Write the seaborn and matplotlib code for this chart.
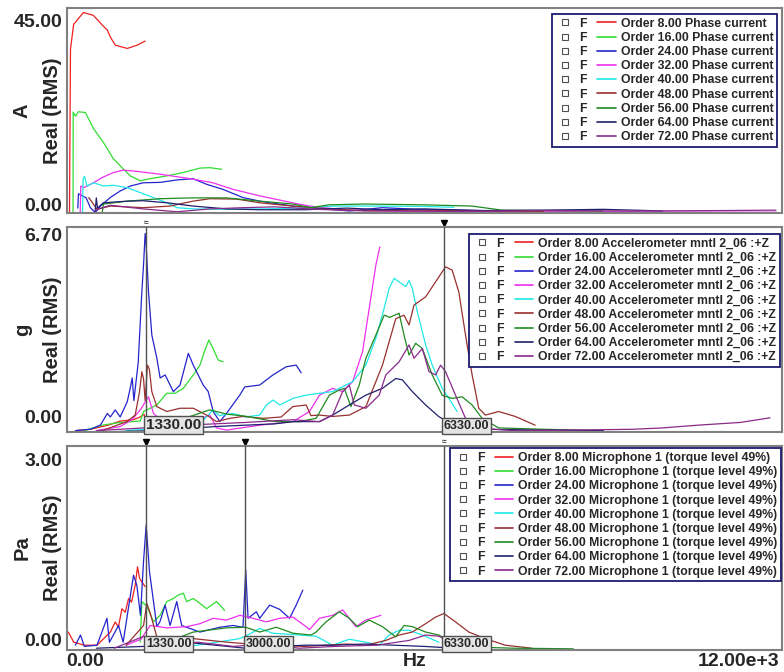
import numpy as np
import pandas as pd
import seaborn as sns
import matplotlib.pyplot as plt
from matplotlib.lines import Line2D

# order numbers and trace colours
orders = ['8.00', '16.00', '24.00', '32.00', '40.00', '48.00', '56.00', '64.00', '72.00']
colors = ['#ee2020', '#30dd30', '#2424cc', '#ee30ee', '#20e8e8',
          '#9a3030', '#208a20', '#20206e', '#8a2a8a']

# ---- panel 1: phase current (A) ----
cur_hz = [
    [50, 67, 120, 284, 451, 601, 685, 735, 818, 1019, 1186, 1319],
    [110, 112, 150, 200, 317, 456, 618, 785, 952, 1069, 1236, 1403, 1687, 1954, 2238, 2405, 2605],
    [190, 200, 330, 400, 484, 568, 735, 902, 1069, 1286, 1570, 1854, 2121, 2355, 2622, 2956,
     3240, 3791, 4075, 4743, 5300, 5900, 6500, 7200],
    [230, 240, 290, 450, 600, 785, 952, 1119, 1570, 2121, 2455, 2789, 3240, 3791, 4075, 4700,
     5500, 6500, 8000, 9500, 11000, 11900],
    [270, 278, 300, 345, 456, 618, 785, 1019, 1236, 1453, 1687, 1854, 2121, 2700, 3300, 3900,
     4500, 5200, 6000, 6500],
    [373, 512, 735, 1286, 1737, 2121, 2405, 2856, 3240, 3791, 4400, 5000, 6000, 7000, 8000],
    [600, 618, 1019, 1570, 2121, 2689, 3240, 3791, 4100, 4400, 5000, 6000, 6800, 7300, 9000],
    [480, 500, 520, 618, 1019, 1286, 1687, 2121, 2689, 3240, 4000, 4700, 5300, 6000, 7000,
     8000, 9000, 10000],
    [480, 735, 1286, 1854, 2405, 2956, 3500, 4200, 5000, 6500, 8000, 9500, 11000, 11900],
]
cur_val = [
    [-2, 38, 44, 46.9, 46.2, 43.8, 42.6, 40.9, 38.9, 38.1, 38.9, 39.9],
    [-2, 22.5, 21.5, 22.6, 22.4, 18.4, 15.1, 11.1, 8.6, 6.9, 5.7, 6.2, 6.9, 7.7, 8.8, 8.9, 8.5],
    [-1, 2.5, 1.5, -0.9, -2.1, -0.5, 1.6, 3.2, 4.4, 5.2, 5.3, 5.9, 6.2, 4.8, 3.6, 1.6,
     0.7, -0.5, -0.9, -1.7, -0.9, -1.3, -1.5, -1.7],
    [-2, 4.4, 4.0, 5.2, 6.5, 7.7, 8.3, 8.1, 7.3, 6.1, 5.2, 3.6, 2.0, 0.3, -0.5, -1.5,
     -1.7, -1.8, -1.9, -1.9, -2.0, -2.0],
    [-2, 6.1, 6.8, 4.4, 5.2, 4.4, 4.6, 4.0, 2.8, 1.6, 0.3, -0.9, -1.2, -1.3, -1.2, -1.0,
     -0.5, -0.5, -0.6, -0.8],
    [1.6, -1.3, -0.5, -0.9, -0.5, 0.7, 1.3, 1.2, 0.3, -0.5, -1.2, -1.6, -1.5, -1.7, -1.8],
    [-2, 0.0, 0.7, 1.3, 1.5, 1.5, 0.7, 0.0, -0.9, -0.2, 0.0, -0.2, -0.5, -1.5, -1.7],
    [-2, 1.5, -1.0, 0.3, 0.7, 0.8, 0.3, -0.5, -1.2, -1.4, -1.4, -1.0, -1.4, -1.2, -1.6,
     -1.5, -1.3, -1.7],
    [-1.5, -0.3, -1.2, -1.9, -1.2, -0.9, -0.7, -1.3, -1.7, -1.8, -1.6, -1.7, -1.6, -1.5],
]

# ---- panel 2: accelerometer (g) ----
acc_hz = [
    [150, 400, 700, 900, 1119, 1236, 1300, 1340],
    [300, 600, 900, 1236, 1292, 1515, 1682, 1821, 1960, 2126, 2238, 2321, 2388, 2460, 2543, 2627],
    [150, 400, 568, 685, 735, 818, 900, 1019, 1069, 1102, 1130, 1203, 1264, 1292, 1319, 1336,
     1375, 1431, 1515, 1570, 1654, 1792, 1904, 2043, 2126, 2293, 2377, 2460, 2572, 2683, 2906,
     2989, 3240, 3462, 3685, 3852, 3936],
    [500, 900, 1100, 1250, 1375, 1459, 1682, 2126, 2405, 2516, 2683, 3240, 3796, 4075, 4242,
     4464, 4631, 4798, 4965, 5077, 5188, 5255],
    [1000, 1300, 1600, 2000, 2300, 2460, 2560, 2794, 3000, 3240, 3351, 3462, 3580, 3796, 4019,
     4242, 4464, 4798, 5021, 5188, 5327, 5411, 5494, 5578, 5689, 5745, 5800, 5884, 6023, 6134,
     6301, 6413, 6551],
    [600, 1013, 1152, 1225, 1264, 1292, 1319, 1358, 1390, 1431, 1515, 1682, 1904, 2126, 2349,
     2516, 2739, 2961, 3300, 3600, 3796, 4019, 4100, 4242, 4464, 4743, 5021, 5299, 5522, 5661,
     5745, 5828, 6023, 6190, 6357, 6468, 6580, 6692, 6803, 6914, 7026, 7248, 7526, 7860],
    [1500, 2400, 2700, 3000, 3500, 3900, 4186, 4409, 4576, 4659, 4770, 4910, 5021, 5188, 5327,
     5420, 5578, 5661, 5745, 5856, 5967, 6134, 6301, 6468, 6635, 6803, 6970, 7248, 8000, 9000],
    [500, 1500, 2500, 3500, 3796, 4242, 4464, 4743, 5021, 5299, 5522, 5633, 5800, 6023, 6246,
     6500, 7000, 8000, 9000],
    [500, 1300, 2000, 3000, 3800, 4242, 4464, 4631, 4743, 4826, 5021, 5244, 5355, 5578, 5745,
     5828, 5967, 6080, 6190, 6274, 6357, 6524, 6692, 6858, 7500, 8500, 9500, 10000, 10588,
     11300, 11800],
]
acc_val = [
    [-0.5, -0.45, -0.3, -0.15, -0.1, 0.0, 0.1, -0.2],
    [-0.5, -0.3, -0.2, -0.15, 0.2, 0.44, 0.87, 0.87, 1.05, 1.54, 1.9, 2.45, 2.82, 2.5, 2.09, 2.02],
    [-0.5, -0.45, -0.3, 0.13, 0.0, 0.26, 0.0, 0.56, 1.06, 1.43, 0.6, 2.0, 4.6, 5.57, 6.72, 6.3,
     4.6, 3.0, 2.16, 1.43, 1.54, 0.93, 1.17, 2.33, 1.9, 1.17, 0.93, 0.2, -0.17, 0.13, 0.8,
     1.1, 1.17, 1.54, 1.84, 1.9, 1.62],
    [-0.5, -0.35, -0.1, 0.3, 0.74, 0.13, -0.3, -0.17, 0.07, -0.4, -0.48, -0.3, -0.17, 0.2, 0.8,
     1.05, 0.93, 1.29, 2.39, 3.98, 5.56, 6.23],
    [-0.5, -0.45, -0.3, -0.25, -0.1, 0.26, 0.05, 0.13, 0.0, 0.07, 0.44, 0.62, 0.44, 0.68, 0.8,
     0.87, 0.93, 1.29, 1.9, 2.88, 3.98, 4.71, 5.08, 4.95, 4.78, 5.0, 4.71, 3.85, 2.64, 1.9,
     1.05, 0.68, 0.2],
    [-0.5, -0.17, 0.07, 0.93, 1.66, 1.4, 0.6, 1.9, 1.75, 0.93, 0.38, 0.2, 0.32, 0.32, 0.07,
     -0.17, -0.05, 0.02, -0.05, 0.0, 0.38, 0.44, 0.05, 0.07, 0.02, 0.07, 0.38, 1.9, 3.6, 3.73,
     3.37, 4.1, 4.4, 4.95, 5.5, 5.38, 4.58, 3.0, 1.54, 0.32, 0.07, 0.2, 0.02, -0.3],
    [-0.4, 0.26, 0.1, 0.03, -0.17, -0.17, -0.05, 0.8, 0.99, 1.05, 0.38, 1.17, 2.15, 3.0, 3.73,
     3.65, 3.8, 3.0, 2.27, 2.7, 2.51, 1.54, 0.8, 0.68, 0.74, 0.44, -0.05, -0.4, -0.45, -0.5],
    [-0.55, -0.5, -0.35, -0.25, -0.17, -0.17, 0.07, 0.44, 0.8, 1.05, 1.41, 1.36, 0.93, 0.44,
     0.01, -0.3, -0.45, -0.48, -0.5],
    [-0.5, -0.4, -0.3, -0.2, -0.1, -0.17, 0.07, 0.93, 1.17, 0.44, 0.32, 0.8, 1.54, 2.02, 2.64,
     2.15, 2.51, 1.66, 1.54, 1.9, 1.66, 0.8, -0.05, -0.4, -0.5, -0.48, -0.45, -0.4, -0.3,
     -0.2, -0.03],
]

# ---- panel 3: microphone (Pa) ----
mic_hz = [
    [30, 122, 300, 512, 623, 735, 818, 870, 930, 985, 1041, 1090, 1152, 1191, 1225, 1270, 1319],
    [1236, 1264, 1347, 1459, 1570, 1682, 1792, 1876, 1960, 2015, 2126, 2238, 2349, 2516, 2627, 2650],
    [150, 234, 300, 512, 679, 720, 873, 950, 1124, 1180, 1240, 1292, 1336, 1392, 1459, 1515,
     1570, 1654, 1737, 1849, 1932, 2015, 2238, 2572, 2794, 2960, 3006, 3045, 3185, 3240, 3407,
     3574, 3741, 3852, 3963],
    [1000, 1250, 1403, 1682, 2015, 2238, 2460, 2683, 2906, 3128, 3351, 3574, 3796, 4019, 4075,
     4242, 4464, 4631, 4854, 5021, 5272],
    [1500, 2200, 2900, 3000, 3240, 3460, 3796, 3908, 4186, 4464, 4743, 5021, 5244, 5411, 5578,
     5745, 5967, 6246],
    [1000, 1292, 1347, 1400, 1515, 1737, 2126, 2700, 3300, 4000, 4700, 5021, 5355, 5578, 5800,
     6023, 6190, 6330, 6524, 6747, 7026, 7359, 7804],
    [1500, 2126, 2683, 3006, 3240, 3518, 3800, 4100, 4186, 4353, 4576, 4743, 4882, 5077, 5299,
     5522, 5661, 5800, 6023, 6246, 6468, 6803, 7500, 8500],
    [500, 1300, 2000, 2500, 3000, 3500, 4000, 4500, 5000, 5500, 6000, 6500, 7000],
    [800, 1300, 1700, 2200, 2800, 3300, 3900, 4500, 5200, 5745, 6023, 6246, 6450, 6800],
]
mic_val = [
    [0.12, -0.05, -0.1, -0.1, 0.01, 0.12, 0.29, 0.2, 0.51, 0.45, 0.68, 0.62, 0.9, 1.21, 1.02,
     0.95, 0.88],
    [-0.05, 0.63, 0.55, 0.29, 0.4, 0.63, 0.68, 0.74, 0.77, 0.63, 0.68, 0.6, 0.51, 0.63, 0.51, 0.48],
    [-0.1, 0.07, -0.12, -0.1, 0.35, -0.05, 0.23, -0.05, 1.07, 0.9, 0.4, 1.3, 1.91, 1.13, 0.63,
     0.21, 0.3, 0.57, 0.23, 0.63, 0.23, 0.2, 0.12, 0.2, 0.23, 0.2, 1.16, 0.35, 0.46, 0.35, 0.57,
     0.5, 0.35, 0.57, 0.82],
    [-0.1, 0.0, 0.23, 0.19, 0.21, 0.26, 0.35, 0.32, 0.4, 0.35, 0.29, 0.35, 0.37, 0.21, 0.16,
     0.35, 0.4, 0.49, 0.21, 0.32, 0.4],
    [-0.15, -0.1, 0.01, 0.05, 0.18, 0.1, 0.08, 0.07, 0.05, -0.1, 0.0, -0.05, -0.1, 0.07, 0.15,
     0.15, 0.07, -0.05],
    [-0.1, 0.23, 0.6, 0.45, 0.04, -0.1, 0.01, -0.05, -0.1, -0.12, -0.08, -0.1, -0.02, 0.07,
     0.12, 0.26, 0.37, 0.43, 0.29, 0.12, 0.01, -0.1, -0.15],
    [-0.12, 0.12, 0.19, 0.2, 0.12, 0.2, 0.1, 0.07, 0.12, 0.29, 0.46, 0.35, 0.21, 0.32, 0.21,
     0.04, 0.23, 0.21, 0.12, 0.07, -0.05, -0.13, -0.15, -0.16],
    [-0.15, -0.12, -0.05, -0.1, -0.15, -0.12, -0.1, -0.1, -0.08, -0.1, -0.12, -0.15, -0.17],
    [-0.15, 0.05, -0.1, -0.05, -0.12, -0.08, -0.15, -0.12, -0.1, -0.02, 0.07, 0.05, -0.05, -0.15],
]

sns.set_style('white')
plt.rcParams['font.family'] = ['Liberation Sans', 'DejaVu Sans']
plt.rcParams['font.weight'] = 'bold'

fig = plt.figure(figsize=(7.84, 6.72), dpi=100)

W, H = 784, 672
x0, x1 = 66.5, 782


def make_axes(top, bottom):
    return fig.add_axes([x0 / W, 1 - bottom / H, (x1 - x0) / W, (bottom - top) / H])


def long_df(hz_lists, val_lists):
    frames = []
    for o, hz, val in zip(orders, hz_lists, val_lists):
        frames.append(pd.DataFrame({'Hz': hz, 'val': val, 'order': o}))
    return pd.concat(frames, ignore_index=True)


def style_panel(ax, ymin, ymax, ntick, unit, top_label):
    ax.set_xlim(0, 12000)
    ax.set_ylim(ymin, ymax)
    for s in ax.spines.values():
        s.set_color('#808080')
        s.set_linewidth(1.5)
    top_val = float(top_label)
    ax.set_yticks([0, top_val])
    ax.set_yticklabels(['0.00', top_label])
    ax.set_yticks(np.linspace(0, top_val, ntick + 1), minor=True)
    ax.set_xticks([5000, 10000])
    ax.set_xticklabels([])
    ax.set_xticks(np.arange(1000, 12000, 1000), minor=True)
    ax.tick_params(axis='y', which='both', direction='in', length=5, width=0.8,
                   color='#505050', labelsize=14, pad=3)
    ax.tick_params(axis='x', which='major', direction='in', length=9, width=0.8, color='#505050')
    ax.tick_params(axis='x', which='minor', direction='in', length=4, width=0.8, color='#505050')
    ax.set_xlabel('')
    ax.set_ylabel(unit + '\nReal (RMS)', fontsize=14.5, fontweight='bold', linespacing=1.75)
    ax.yaxis.set_label_coords(-0.006, 0.5)


def add_legend(ax, text, anchor):
    boxes = [Line2D([], [], ls='none', marker='s', ms=4, mfc='white', mec='#505050', mew=0.8)
             for _ in orders]
    lines = [Line2D([], [], color=c, lw=1.2) for c in colors]
    labels = ['F'] * len(orders) + ['Order %s %s' % (o, text) for o in orders]
    leg = ax.legend(boxes + lines, labels, ncol=2, loc='upper right', bbox_to_anchor=anchor,
                    borderaxespad=0, prop={'weight': 'bold', 'size': 8.8},
                    handlelength=1.5, handletextpad=0.4, columnspacing=0.9,
                    labelspacing=0.18, borderpad=0.3, numpoints=1, fancybox=False,
                    framealpha=1, edgecolor='#1c1c6e')
    leg.get_frame().set_linewidth(1.3)


def cursor(ax, x, label, mark='v', fs=9):
    ax.axvline(x, color='#505050', lw=1, zorder=5)
    ax.text(x, 0.0, label, transform=ax.get_xaxis_transform(), ha='left', va='bottom',
            fontsize=fs, fontweight='bold', zorder=6,
            bbox=dict(boxstyle='square,pad=0.15', fc='#e4e4e4', ec='#505050', lw=1))
    if mark == 'v':
        ax.plot([x], [1.02], marker='v', ms=5, color='black', transform=ax.get_xaxis_transform(),
                clip_on=False)
    else:
        ax.text(x, 1.0, '\u2248', transform=ax.get_xaxis_transform(), ha='center', va='bottom',
                fontsize=6, color='#303030')


panels = [
    (8, 213, cur_hz, cur_val, -2.2, 48.0, 16, 'A', '45.00', 'Phase current', (0.993, 0.971)),
    (227, 432, acc_hz, acc_val, -0.55, 6.96, 12, 'g', '6.70', 'Accelerometer mntl 2_06 :+Z',
     (0.997, 0.966)),
    (446, 650, mic_hz, mic_val, -0.18, 3.23, 13, 'Pa', '3.00', 'Microphone 1 (torque level 49%)',
     (0.999, 0.989)),
]

axes = []
for top, bottom, hz, val, ymin, ymax, nt, unit, toplab, text, anchor in panels:
    ax = make_axes(top, bottom)
    df = long_df(hz, val)
    sns.lineplot(data=df, x='Hz', y='val', hue='order', palette=colors, estimator=None,
                 sort=False, lw=0.9, legend=False, ax=ax)
    style_panel(ax, ymin, ymax, nt, unit, toplab)
    add_legend(ax, text, anchor)
    axes.append(ax)

ax1, ax2, ax3 = axes
cursor(ax2, 1330, '1330.00', mark='~', fs=11)
cursor(ax2, 6330, '6330.00', mark='v')
cursor(ax3, 1330, '1330.00', mark='v')
cursor(ax3, 3000, '3000.00', mark='v')
cursor(ax3, 6330, '6330.00', mark='~')
for ax, lims in zip(axes, [(-2.2, 48.0), (-0.55, 6.96), (-0.18, 3.23)]):
    ax.set_xlim(0, 12000)
    ax.set_ylim(*lims)

ax3.text(0.0, -0.015, '0.00', transform=ax3.transAxes, ha='left', va='top', fontsize=14)
ax3.text(0.487, -0.015, 'Hz', transform=ax3.transAxes, ha='center', va='top', fontsize=14)
ax3.text(0.997, -0.015, '12.00e+3', transform=ax3.transAxes, ha='right', va='top', fontsize=14)

fig.savefig('out.png', dpi=100)
